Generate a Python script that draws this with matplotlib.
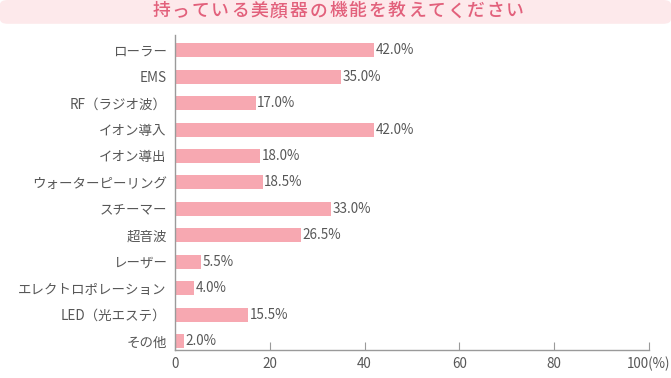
import matplotlib
matplotlib.use("Agg")
import matplotlib.pyplot as plt
from matplotlib.patches import FancyBboxPatch

plt.rcParams['font.family'] = ['Noto Sans CJK JP', 'DejaVu Sans']

categories = ["ローラー", "EMS", "RF（ラジオ波）", "イオン導入", "イオン導出",
              "ウォーターピーリング", "スチーマー", "超音波", "レーザー",
              "エレクトロポレーション", "LED（光エステ）", "その他"]
values = [42.0, 35.0, 17.0, 42.0, 18.0, 18.5, 33.0, 26.5, 5.5, 4.0, 15.5, 2.0]
xticks = [0, 20, 40, 60, 80, 100]
xticklabels = ["0", "20", "40", "60", "80", "100(%)"]
title = "持っている美顔器の機能を教えてください"

bar_color = "#f7a8b1"
text_color = "#575757"
axis_color = "#9a9a9a"
fs = 9.7

fig = plt.figure(figsize=(6.71, 3.78), dpi=100)

# title banner
banner = FancyBboxPatch((0.0, 0.937), 1.0, 0.063, boxstyle="round,pad=0,rounding_size=0.012",
                        transform=fig.transFigure, facecolor="#fde9eb", edgecolor="none")
fig.patches.append(banner)
# letter-spaced title
x0, x1 = 161.0 / 671, 515.0 / 671
n = len(title)
for i, ch in enumerate(title):
    fig.text(x0 + (x1 - x0) * i / (n - 1), 0.970, ch, ha="center", va="center",
             color="#e2607b", fontsize=12.8, fontweight="medium")

ax = fig.add_axes([0.2608, 0.074, 0.7064, 0.833])
y = list(range(len(categories)))
ax.barh(y, values, height=0.53, color=bar_color)
for yi, v in zip(y, values):
    ax.text(v + 0.3, yi, f"{v:.1f}%", va="center", ha="left", color=text_color, fontsize=fs)

ax.set_yticks(y)
ax.set_yticklabels(categories, color=text_color, fontsize=fs)
ax.set_ylim(11.34, -0.57)
ax.set_xlim(0, 100)
ax.set_xticks(xticks)
ax.set_xticklabels(xticklabels, color=text_color, fontsize=fs)
ax.tick_params(axis="y", length=0, pad=6)
ax.tick_params(axis="x", direction="in", length=6, color=axis_color, pad=5)
for s in ["top", "right"]:
    ax.spines[s].set_visible(False)
for s in ["left", "bottom"]:
    ax.spines[s].set_color(axis_color)
    ax.spines[s].set_linewidth(1)

fig.savefig("out.png", dpi=100)
